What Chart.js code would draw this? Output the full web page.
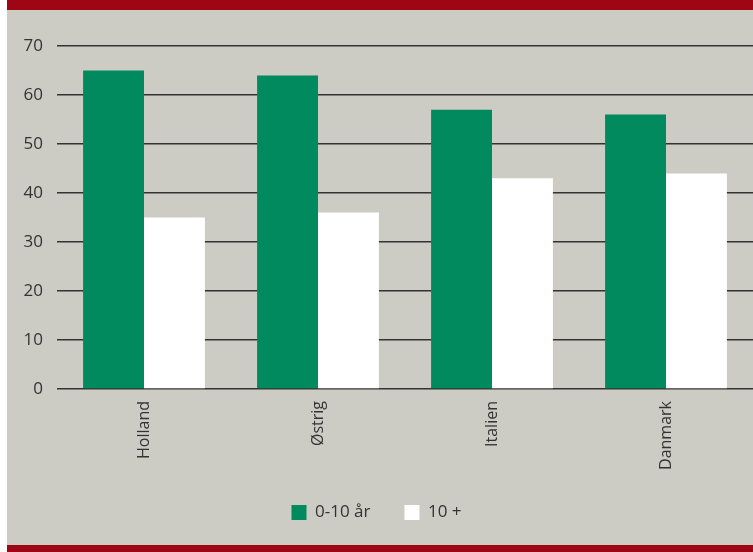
<!DOCTYPE html>
<html><head><meta charset="utf-8">
<script src="https://cdn.jsdelivr.net/npm/chart.js@4/dist/chart.umd.min.js"></script>
<style>
html,body{margin:0;padding:0;background:#fff;}
#wrap{position:absolute;left:0;top:0;width:753px;height:552px;}
</style></head>
<body><div id="wrap"><canvas id="c" width="753" height="552"></canvas></div>
<script>
const categories = ["Holland", "Østrig", "Italien", "Danmark"];
const seriesNames = ["0-10 år", "10 +"];
const young = [65, 64, 57, 56];
const old = [35, 36, 43, 44];
const yTicks = [0, 10, 20, 30, 40, 50, 60, 70];

const bgPlugin = {
  id: 'bg',
  beforeDraw(chart) {
    const ctx = chart.ctx;
    ctx.save();
    ctx.fillStyle = '#ffffff';
    ctx.fillRect(0, 0, 753, 552);
    ctx.fillStyle = '#cccbc4';
    ctx.fillRect(7, 0, 746, 552);
    ctx.fillStyle = '#9e0616';
    ctx.fillRect(7, 0, 746, 10);
    ctx.fillRect(7, 545, 746, 7);
    ctx.restore();
  }
};

new Chart(document.getElementById('c'), {
  type: 'bar',
  data: {
    labels: categories,
    datasets: [
      { label: seriesNames[0], data: young, backgroundColor: '#008a5e', borderWidth: 0 },
      { label: seriesNames[1], data: old, backgroundColor: '#ffffff', borderWidth: 0 }
    ]
  },
  options: {
    responsive: false,
    animation: false,
    devicePixelRatio: 1,
    layout: { padding: { left: 0, right: 0, top: 46, bottom: 21 } },
    datasets: { bar: { categoryPercentage: 0.7, barPercentage: 1.0 } },
    plugins: {
      tooltip: { enabled: false },
      legend: {
        position: 'bottom',
        labels: {
          boxWidth: 15, boxHeight: 15, padding: 34,
          color: '#333333',
          font: { family: 'Open Sans', size: 17 }
        }
      }
    },
    scales: {
      x: {
        grid: { display: false, drawTicks: false },
        border: { display: false },
        ticks: {
          minRotation: 90, maxRotation: 90, padding: 12,
          color: '#333333', font: { family: 'Open Sans', size: 16 }
        },
        afterFit(s) { s.height = 81; }
      },
      y: {
        min: 0, max: 70,
        afterBuildTicks(s) { s.ticks = yTicks.map(v => ({ value: v })); },
        grid: { color: '#333333', lineWidth: 1.5, drawTicks: false },
        border: { display: false },
        ticks: {
          padding: 14, color: '#333333',
          font: { family: 'Open Sans', size: 17 }
        },
        afterFit(s) { s.width = 57; }
      }
    }
  },
  plugins: [bgPlugin]
});
</script></body></html>
